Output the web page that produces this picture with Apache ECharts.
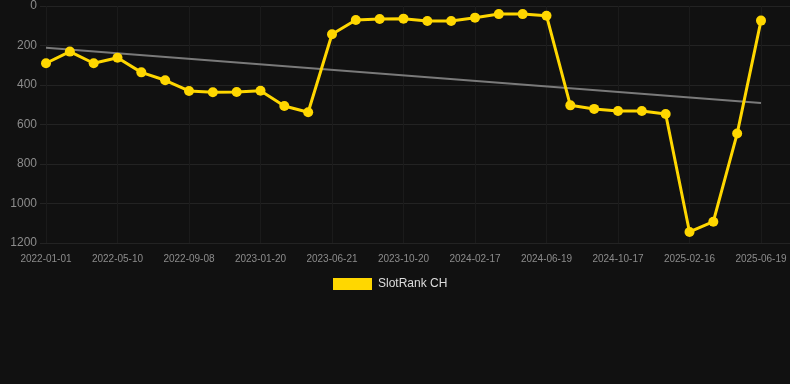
<!DOCTYPE html>
<html>
<head>
<meta charset="utf-8">
<script src="https://cdn.jsdelivr.net/npm/echarts@6/dist/echarts.min.js"></script>
<style>
html,body{margin:0;padding:0;background:#111111;}
#chart{width:790px;height:384px;}
</style>
</head>
<body>
<div id="chart"></div>
<script>
var categories = [
  '2022-01-01','2022-02-13','2022-03-28','2022-05-10','2022-06-19','2022-07-29',
  '2022-09-08','2022-10-23','2022-12-07','2023-01-20','2023-03-12','2023-05-02',
  '2023-06-21','2023-07-31','2023-09-09','2023-10-20','2023-11-29','2024-01-08',
  '2024-02-17','2024-03-29','2024-05-09','2024-06-19','2024-07-29','2024-09-07',
  '2024-10-17','2024-11-27','2025-01-06','2025-02-16','2025-03-28','2025-05-08',
  '2025-06-19'
];
var rankValues = [
  290, 231, 290, 262, 336, 376,
  430, 437, 435, 429, 506, 538,
  143, 71, 66, 64, 76, 76,
  59, 41, 41, 49, 503, 521,
  532, 532, 547, 1144, 1092, 646,
  74
];
var trendStart = 211;
var trendEnd = 491;
var yTicks = [0, 200, 400, 600, 800, 1000, 1200];

var trendData = [[categories[0], trendStart], [categories[categories.length - 1], trendEnd]];

var chart = echarts.init(document.getElementById('chart'), null, {renderer: 'canvas'});
chart.setOption({
  backgroundColor: '#111111',
  animation: false,
  grid: [
    {left: 46, right: 29, top: 6, bottom: 141, containLabel: false},
    {left: 40, right: 0, top: 6, bottom: 141, containLabel: false}
  ],
  legend: {
    data: ['SlotRank CH'],
    top: 278,
    left: 333,
    itemWidth: 39,
    itemHeight: 12,
    itemGap: 10,
    padding: 0,
    textStyle: {color: '#dddddd', fontSize: 12, padding: [0, 0, 0, 1], fontFamily: 'Liberation Sans, Arial, sans-serif'},
    icon: 'rect'
  },
  xAxis: [
    {
      type: 'category',
      gridIndex: 0,
      data: categories,
      boundaryGap: false,
      axisLine: {show: false},
      axisTick: {show: false},
      axisLabel: {
        interval: 2,
        color: '#8c8c8c',
        fontSize: 10,
        margin: 11,
        fontFamily: 'Liberation Sans, Arial, sans-serif'
      },
      splitLine: {show: true, interval: 2, lineStyle: {color: '#1b1b1b', width: 1}}
    },
    {
      type: 'value',
      gridIndex: 1,
      show: false,
      splitLine: {show: false}
    }
  ],
  yAxis: [
    {
      type: 'value',
      gridIndex: 0,
      inverse: true,
      min: yTicks[0],
      max: yTicks[yTicks.length - 1],
      interval: 200,
      axisLine: {show: false},
      axisTick: {show: false},
      axisLabel: {
        color: '#8c8c8c',
        fontSize: 12,
        margin: 9,
        formatter: function (v) { return String(v); },
        fontFamily: 'Liberation Sans, Arial, sans-serif'
      },
      splitLine: {show: false}
    },
    {
      type: 'value',
      gridIndex: 1,
      inverse: true,
      min: yTicks[0],
      max: yTicks[yTicks.length - 1],
      interval: 200,
      axisLine: {show: false},
      axisTick: {show: false},
      axisLabel: {show: false},
      splitLine: {show: true, lineStyle: {color: '#232323', width: 1}}
    }
  ],
  series: [
    {
      name: 'SlotRank CH',
      type: 'line',
      xAxisIndex: 0,
      yAxisIndex: 0,
      data: rankValues,
      z: 3,
      symbol: 'circle',
      symbolSize: 10,
      showAllSymbol: true,
      lineStyle: {color: '#FFD700', width: 3},
      itemStyle: {color: '#FFD700'}
    },
    {
      name: 'Trend',
      type: 'line',
      xAxisIndex: 0,
      yAxisIndex: 0,
      data: trendData,
      z: 2,
      symbol: 'none',
      lineStyle: {color: '#7a7a7a', width: 2},
      itemStyle: {color: '#7a7a7a'}
    }
  ]
});
</script>
</body>
</html>
